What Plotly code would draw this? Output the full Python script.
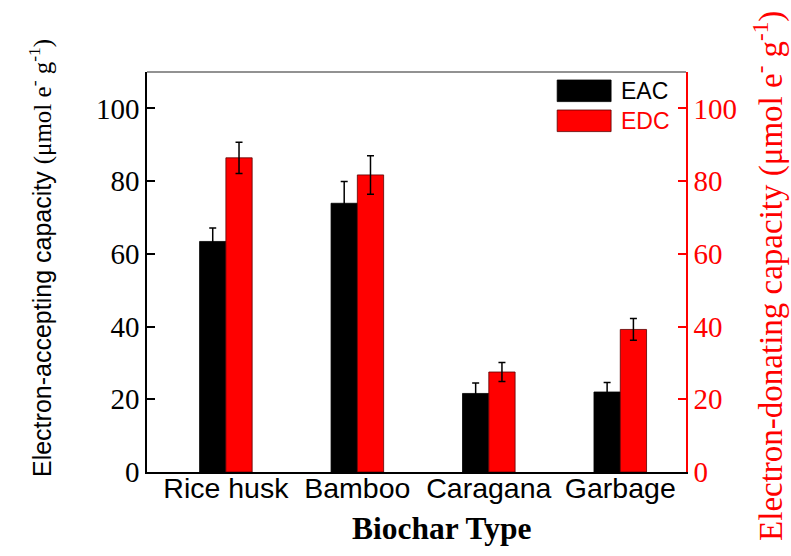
import plotly.graph_objects as go

categories = ["Rice husk", "Bamboo", "Caragana", "Garbage"]
eac_values = [63.4, 73.9, 21.6, 22.0]
eac_errors = [3.7, 6.0, 2.9, 2.6]
edc_values = [86.4, 81.7, 27.5, 39.2]
edc_errors = [4.3, 5.3, 2.6, 3.0]
y_ticks = [0, 20, 40, 60, 80, 100]

SERIF = "Liberation Serif, Times New Roman, serif"
SANS = "Liberation Sans, Arial, sans-serif"
RED = "#ff0000"

fig = go.Figure()
fig.add_trace(go.Bar(
    x=categories, y=eac_values, name="EAC",
    marker=dict(color="#000000", line=dict(color="#000000", width=0.8)),
    error_y=dict(type="data", array=eac_errors, visible=True, color="#000000", thickness=1.5, width=3.5),
    width=0.2, offset=-0.2, offsetgroup="a", showlegend=False,
))
fig.add_trace(go.Bar(
    x=categories, y=edc_values, name="EDC", yaxis="y2",
    marker=dict(color=RED, line=dict(color="#5a0000", width=0.8)),
    error_y=dict(type="data", array=edc_errors, visible=True, color="#000000", thickness=1.5, width=3.5),
    width=0.2, offset=0.0, offsetgroup="b", showlegend=False,
))

fig.update_layout(
    width=791, height=556,
    margin=dict(l=147, r=105, t=72, b=84),
    paper_bgcolor="white", plot_bgcolor="white",
    xaxis=dict(
        range=[-0.6, 3.5], showline=True, linecolor="#000000", linewidth=1.5,
        ticks="", showgrid=False, zeroline=False, ticklabelstandoff=-10,
        tickfont=dict(family=SANS, size=28.5, color="#000000"),
    ),
    yaxis=dict(
        range=[0, 110], tickvals=y_ticks, showline=True, linecolor="#000000", linewidth=1.5,
        ticks="inside", ticklen=8, tickwidth=1.5, tickcolor="#000000",
        showgrid=False, zeroline=False,
        tickfont=dict(family=SERIF, size=29, color="#000000"),
    ),
    yaxis2=dict(
        range=[0, 110], tickvals=y_ticks, overlaying="y", side="right",
        showline=True, linecolor=RED, linewidth=1.5,
        ticks="inside", ticklen=8, tickwidth=1.5, tickcolor=RED,
        showgrid=False, zeroline=False,
        tickfont=dict(family=SERIF, size=29, color=RED),
    ),
    showlegend=False,
)

# top frame line
fig.add_shape(type="line", xref="paper", yref="paper", x0=0, x1=1, y0=1, y1=1,
              line=dict(color="#6e6e6e", width=1.5))

# custom legend
fig.add_shape(type="rect", xref="paper", yref="paper", x0=0.761, x1=0.861, y0=0.926, y1=0.98,
              fillcolor="#000000", line=dict(color="#000000", width=0.8))
fig.add_shape(type="rect", xref="paper", yref="paper", x0=0.761, x1=0.861, y0=0.851, y1=0.905,
              fillcolor=RED, line=dict(color="#5a0000", width=0.8))
fig.add_annotation(xref="paper", yref="paper", x=0.876, y=0.953, xanchor="left", yanchor="middle",
                   text="EAC", showarrow=False, font=dict(family=SANS, size=23, color="#000000"))
fig.add_annotation(xref="paper", yref="paper", x=0.876, y=0.878, xanchor="left", yanchor="middle",
                   text="EDC", showarrow=False, font=dict(family=SANS, size=23, color=RED))

# axis titles
fig.add_annotation(
    xref="paper", yref="paper", x=-0.1985, y=0.535, xanchor="center", yanchor="middle",
    textangle=-90, showarrow=False,
    text="Electron-accepting capacity <span style='font-family:Liberation Serif'>(μmol e<sup>-</sup> g<sup>-1</sup>)</span>",
    font=dict(family=SANS, size=25, color="#000000"),
)
fig.add_annotation(
    xref="paper", yref="paper", x=1.152, y=0.49, xanchor="center", yanchor="middle",
    textangle=-90, showarrow=False,
    text="Electron-donating capacity (μmol e<sup>-</sup> g<sup>-1</sup>)",
    font=dict(family=SERIF, size=33, color=RED),
)
fig.add_annotation(
    xref="paper", yref="paper", x=0.547, y=-0.14, xanchor="center", yanchor="middle",
    showarrow=False, text="<b>Biochar Type</b>",
    font=dict(family=SERIF, size=31.5, color="#000000"),
)

fig.write_html("out.html")
